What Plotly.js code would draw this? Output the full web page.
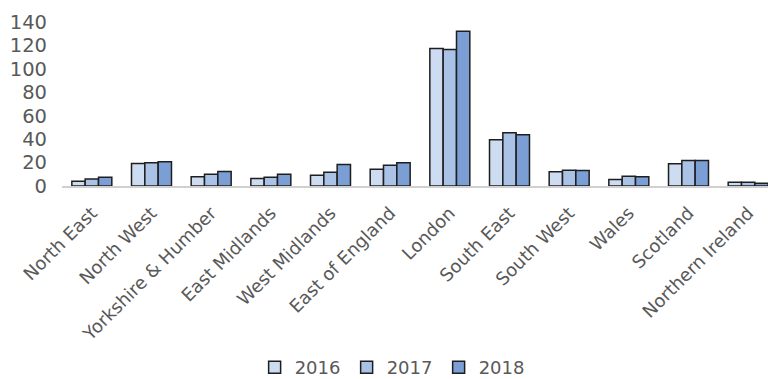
<!DOCTYPE html>
<html><head><meta charset="utf-8">
<script src="https://cdn.plot.ly/plotly-3.0.1.min.js"></script>
<style>html,body{margin:0;padding:0;background:#fff;overflow:hidden;width:768px;height:379px}#chart{width:790px;height:379px}</style>
</head><body><div id="chart"></div>
<script>
const regions = ["North East","North West","Yorkshire & Humber","East Midlands","West Midlands","East of England","London","South East","South West","Wales","Scotland","Northern Ireland"];
const v2016 = [4, 19.2, 7.9, 6.4, 9.2, 14.3, 117.4, 39.5, 12.1, 5.6, 19, 3.2];
const v2017 = [6, 19.8, 10.1, 7.5, 11.8, 17.8, 116.6, 45.4, 13.5, 8.4, 21.8, 3.2];
const v2018 = [7.5, 20.7, 12.4, 10.1, 18.4, 19.8, 132.2, 43.7, 13.2, 7.9, 21.8, 2.4];
const years = ["2016","2017","2018"];
const colors = ["#cddcf0","#a9c2e6","#7b9ed4"];
const series = [v2016, v2017, v2018];
const font = "'DejaVu Sans', 'Noto Sans', sans-serif";
const traces = series.map((s,i)=>({
  type:"bar", x:regions, y:s, name:years[i],
  marker:{color:colors[i], line:{color:"#1e1e1e", width:1.5}}
}));
Plotly.newPlot("chart", traces, {
  width:790, height:379,
  margin:{l:62, r:12, t:22, b:192.5, autoexpand:false},
  paper_bgcolor:"#fff", plot_bgcolor:"#fff",
  barmode:"group", bargap:0.33, bargroupgap:0,
  font:{family:font, color:"#595959"},
  xaxis:{tickangle:-45, tickfont:{size:18, color:"#595959"}, showline:true, linecolor:"#d0d0d0", linewidth:1.5, ticks:"", showgrid:false, ticklabelstandoff:8, automargin:false},
  yaxis:{range:[0,140], dtick:20, tickfont:{size:19.5, color:"#595959"}, showgrid:false, zeroline:false, showline:false, ticks:"", ticklabelstandoff:14, automargin:false},
  showlegend:true,
  legend:{orientation:"h", xref:"container", yref:"container", x:0.497, xanchor:"center", y:0.03, yanchor:"middle", font:{size:18, color:"#595959"}, traceorder:"normal", itemwidth:30, entrywidth:47, entrywidthmode:"pixels"}
}, {staticPlot:true});
</script></body></html>
